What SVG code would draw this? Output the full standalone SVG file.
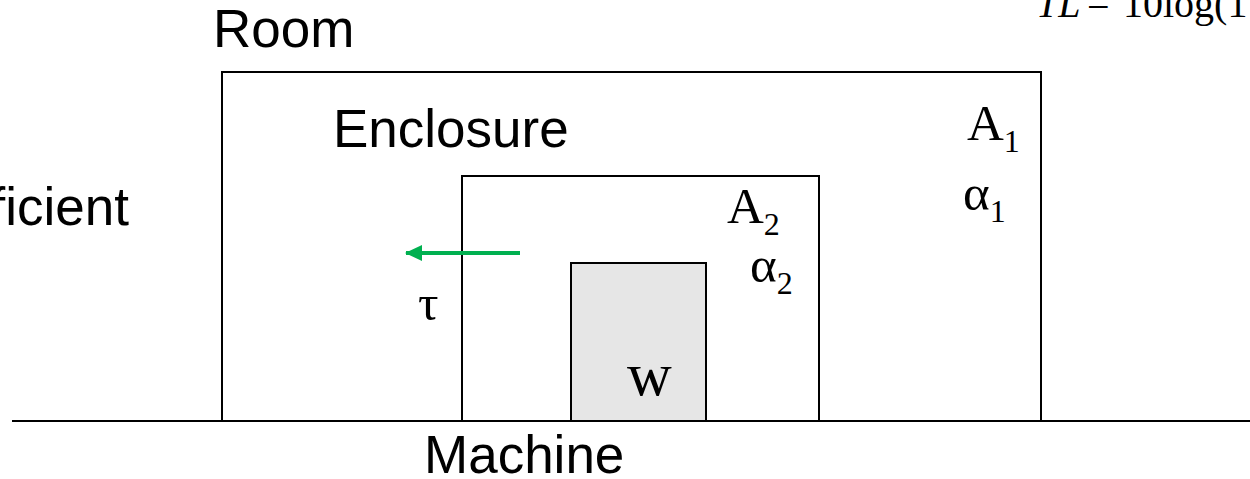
<svg xmlns="http://www.w3.org/2000/svg" width="1250" height="479" viewBox="0 0 1250 479">
<style>
.box{fill:none;stroke:#000;stroke-width:2}
.sans{font-family:"Liberation Sans",Arial,sans-serif;font-size:53px;fill:#000}
.serif{font-family:"Liberation Serif","Times New Roman",serif;font-size:51px;fill:#000}
.sub{font-size:32px}
</style>
<defs>
<marker id="ah" markerWidth="17" markerHeight="16" refX="16" refY="8" orient="auto" markerUnits="userSpaceOnUse">
<path d="M0,0 L17,8 L0,16 Z" fill="#00b050"/>
</marker>
</defs>
<rect width="1250" height="479" fill="#fff"/>
<text class="serif" x="1036" y="17" style="font-size:40px"><tspan font-style="italic">TL</tspan><tspan x="1087">=</tspan><tspan x="1123">10log(1</tspan></text>
<g id="room">
<rect class="box" x="222" y="72" width="819" height="349"/>
<text class="sans" x="213" y="47">Room</text>
<text class="serif" x="967" y="140">A<tspan class="sub" dy="12">1</tspan></text>
<text class="serif" x="963" y="210">α<tspan class="sub" dy="12">1</tspan></text>
</g>
<g id="enclosure">
<rect class="box" x="462" y="176" width="357" height="245"/>
<text class="sans" x="333" y="147">Enclosure</text>
<text class="serif" x="727" y="223">A<tspan class="sub" dy="12">2</tspan></text>
<text class="serif" x="750" y="282">α<tspan class="sub" dy="12">2</tspan></text>
<text class="serif" x="418" y="320">τ</text>
</g>
<g id="machine">
<rect x="571" y="263" width="135" height="158" fill="#e6e6e6" stroke="#000" stroke-width="2"/>
<text class="serif" x="627" y="395" style="font-size:62px">w</text>
<text class="sans" x="424" y="473">Machine</text>
</g>
<g id="label">
<text class="sans" x="129" y="225" text-anchor="end">ficient</text>
</g>
<g id="connectors">
<line x1="12" y1="421" x2="1250" y2="421" stroke="#000" stroke-width="2"/>
<line x1="520" y1="253" x2="406" y2="253" stroke="#00b050" stroke-width="4" marker-end="url(#ah)"/>
</g>
</svg>
